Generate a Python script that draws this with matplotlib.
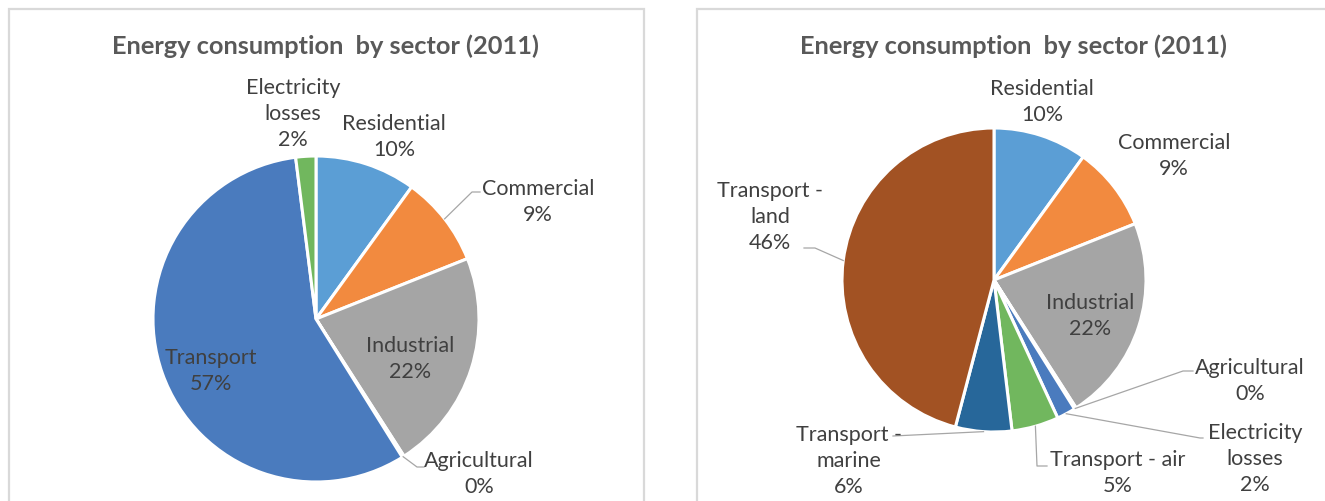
import numpy as np
import matplotlib
matplotlib.use("Agg")
import matplotlib.pyplot as plt
from matplotlib.patches import Rectangle
from matplotlib.lines import Line2D

# ---------------- data ----------------
title = "Energy consumption  by sector (2011)"

left_labels = ["Residential", "Commercial", "Industrial", "Agricultural", "Transport", "Electricity\nlosses"]
left_values = [10, 9, 22, 0.2, 57, 2]
left_pct = ["10%", "9%", "22%", "0%", "57%", "2%"]
left_colors = ["#5B9ED5", "#F28A3F", "#A5A5A5", "#FFC000", "#4A7BBE", "#71B75E"]

right_labels = ["Residential", "Commercial", "Industrial", "Agricultural", "Electricity\nlosses",
                "Transport - air", "Transport -\nmarine", "Transport -\nland"]
right_values = [10, 9, 22, 0.2, 2, 5, 6, 46]
right_pct = ["10%", "9%", "22%", "0%", "2%", "5%", "6%", "46%"]
right_colors = ["#5B9ED5", "#F28A3F", "#A5A5A5", "#FFC000", "#4A7BBE", "#71B75E", "#27679A", "#A25223"]

W, H = 1325, 502
FONT = "Lato"
TXT = "#404040"
TITLE_C = "#595959"
LBL_SIZE = 15.5
TITLE_SIZE = 18.3

fig = plt.figure(figsize=(W / 100, H / 100), dpi=100)
fig.patch.set_facecolor("white")


def fx(px):
    return px / W


def fy(py):
    return 1 - py / H


# panel borders
for (x0, x1) in [(8.5, 644), (697, 1340)]:
    fig.add_artist(Rectangle((fx(x0), fy(560)), fx(x1) - fx(x0), fy(10) - fy(560),
                             transform=fig.transFigure, fill=False,
                             edgecolor="#D9D9D9", linewidth=1.6))


def make_pie(cx, cy, r, values, colors):
    ax = fig.add_axes([fx(cx - r), fy(cy + r), (2 * r) / W, (2 * r) / H])
    ax.pie(values, colors=colors, startangle=90, counterclock=False, radius=1,
           wedgeprops=dict(edgecolor="white", linewidth=2.2))
    ax.set_xlim(-1, 1)
    ax.set_ylim(-1, 1)
    ax.set_aspect("equal")
    ax.axis("off")
    return ax


def mid_edge(values, i, frac=1.0):
    tot = sum(values)
    before = sum(values[:i])
    m = (before + values[i] / 2) / tot
    ang = np.deg2rad(90 - 360 * m)
    return frac * np.cos(ang), frac * np.sin(ang)


def put(ax, cx, cy, r, px, py, text):
    ax.text((px - cx) / r, (cy - py) / r, text, ha="center", va="center",
            fontsize=LBL_SIZE, color=TXT, family=FONT, clip_on=False, linespacing=1.38)


def leader(ax, cx, cy, r, pts):
    xs = [(p[0] - cx) / r for p in pts]
    ys = [(cy - p[1]) / r for p in pts]
    ax.add_line(Line2D(xs, ys, color="#A6A6A6", linewidth=0.9, clip_on=False))


# ---------- left pie ----------
LCX, LCY, LR = 316, 320, 163
axl = make_pie(LCX, LCY, LR, left_values, left_colors)
left_pos = [(394, 137), (538, 202), (410, 359), (479, 474), (211, 371), (293, 114)]
for lab, pct, (px, py) in zip(left_labels, left_pct, left_pos):
    put(axl, LCX, LCY, LR, px, py, lab + "\n" + pct)
# leaders
ex, ey = mid_edge(left_values, 1)
leader(axl, LCX, LCY, LR, [(LCX + ex * LR, LCY - ey * LR), (472, 193), (480, 193)])
ex, ey = mid_edge(left_values, 3)
leader(axl, LCX, LCY, LR, [(LCX + ex * LR, LCY - ey * LR), (417, 468), (424, 468)])

fig.text(fx(326), fy(46), title, ha="center", va="center", fontsize=TITLE_SIZE,
         fontweight="bold", color=TITLE_C, family=FONT)

# ---------- right pie ----------
RCX, RCY, RR = 994, 281, 152
axr = make_pie(RCX, RCY, RR, right_values, right_colors)
right_pos = [(1042, 102), (1174, 156), (1090, 316), (1250, 381), (1255, 459),
             (1118, 473), (849, 461), (770, 217)]
for lab, pct, (px, py) in zip(right_labels, right_pct, right_pos):
    put(axr, RCX, RCY, RR, px, py, lab + "\n" + pct)

ex, ey = mid_edge(right_values, 3)
leader(axr, RCX, RCY, RR, [(RCX + ex * RR, RCY - ey * RR), (1183, 372), (1193, 372)])
ex, ey = mid_edge(right_values, 4)
leader(axr, RCX, RCY, RR, [(RCX + ex * RR, RCY - ey * RR), (1200, 439), (1203, 439)])
ex, ey = mid_edge(right_values, 5)
leader(axr, RCX, RCY, RR, [(RCX + ex * RR, RCY - ey * RR), (1037, 467), (1047, 467)])
ex, ey = mid_edge(right_values, 6)
leader(axr, RCX, RCY, RR, [(RCX + ex * RR, RCY - ey * RR), (893, 437)])
ex, ey = mid_edge(right_values, 7)
leader(axr, RCX, RCY, RR, [(RCX + ex * RR, RCY - ey * RR), (815, 249), (804, 249)])

fig.text(fx(1014), fy(46), title, ha="center", va="center", fontsize=TITLE_SIZE,
         fontweight="bold", color=TITLE_C, family=FONT)

fig.savefig("out.png", dpi=100, facecolor="white")
